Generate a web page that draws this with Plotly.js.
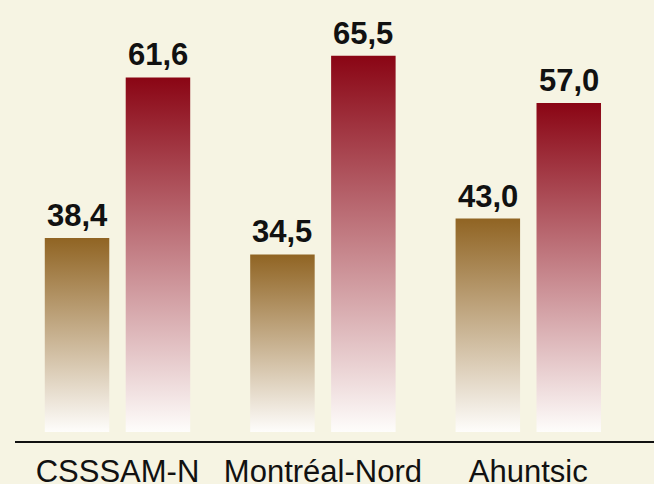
<!DOCTYPE html>
<html>
<head>
<meta charset="utf-8">
<script src="https://cdn.plot.ly/plotly-3.0.1.min.js"></script>
<style>html,body{margin:0;padding:0;background:#f6f4e3;}#chart{width:654px;height:484px;}</style>
</head>
<body>
<div id="chart"></div>
<script>
// Data
var categories = ["CSSSAM-N", "Montréal-Nord", "Ahuntsic"];
var seriesBrown = [38.4, 34.5, 43.0];
var seriesRed = [61.6, 65.5, 57.0];

// Style
var bg = "#f6f4e3";
var brownTop = "#906423";
var redTop = "#8a0514";
var bottomColor = "#fefdfb";
var barW = 0.314, offset = 0.197;
var brownBase = -7.47, redBase = -2.05;

function fmt(v){ return v.toFixed(1).replace(".", ","); }

var traces = [];
var annotations = [];
function addSeries(vals, color, base, yax, sign){
  vals.forEach(function(v, i){
    var xc = i + sign*offset;
    var x0 = xc - barW/2, x1 = xc + barW/2;
    traces.push({
      type: "scatter", mode: "none",
      x: [x0, x0, x1, x1, x0],
      y: [base, v, v, base, base],
      yaxis: yax, fill: "toself",
      fillgradient: {type: "vertical", colorscale: [[0, bottomColor], [1, color]]},
      hoverinfo: "skip", showlegend: false
    });
    annotations.push({
      x: xc, y: v, xref: "x", yref: yax, yanchor: "bottom", xanchor: "center",
      text: "<b>" + fmt(v) + "</b>", showarrow: false, yshift: 3,
      font: {family: "Liberation Sans, Arial, sans-serif", size: 31, color: "#111111"}
    });
  });
}
addSeries(seriesBrown, brownTop, brownBase, "y", -1);
addSeries(seriesRed, redTop, redBase, "y2", 1);

var layout = {
  width: 654, height: 484,
  paper_bgcolor: bg, plot_bgcolor: bg,
  margin: {l: 15, r: 0, t: 0, b: 43},
  showlegend: false,
  xaxis: {
    range: [-0.499, 2.612], showgrid: false, zeroline: false,
    showline: true, linecolor: "#111111", linewidth: 1.5,
    tickvals: [0, 1, 2], ticktext: categories, ticks: "",
    ticklabelstandoff: 2,
    tickfont: {family: "Liberation Sans, Arial, sans-serif", size: 31, color: "#111111"},
    fixedrange: true
  },
  yaxis: {range: [-9.60, 94.66], visible: false, showgrid: false, zeroline: false, fixedrange: true},
  yaxis2: {range: [-3.66, 75.51], visible: false, overlaying: "y", showgrid: false, zeroline: false, fixedrange: true},
  annotations: annotations
};

Plotly.newPlot("chart", traces, layout, {displayModeBar: false, staticPlot: true});
</script>
</body>
</html>
